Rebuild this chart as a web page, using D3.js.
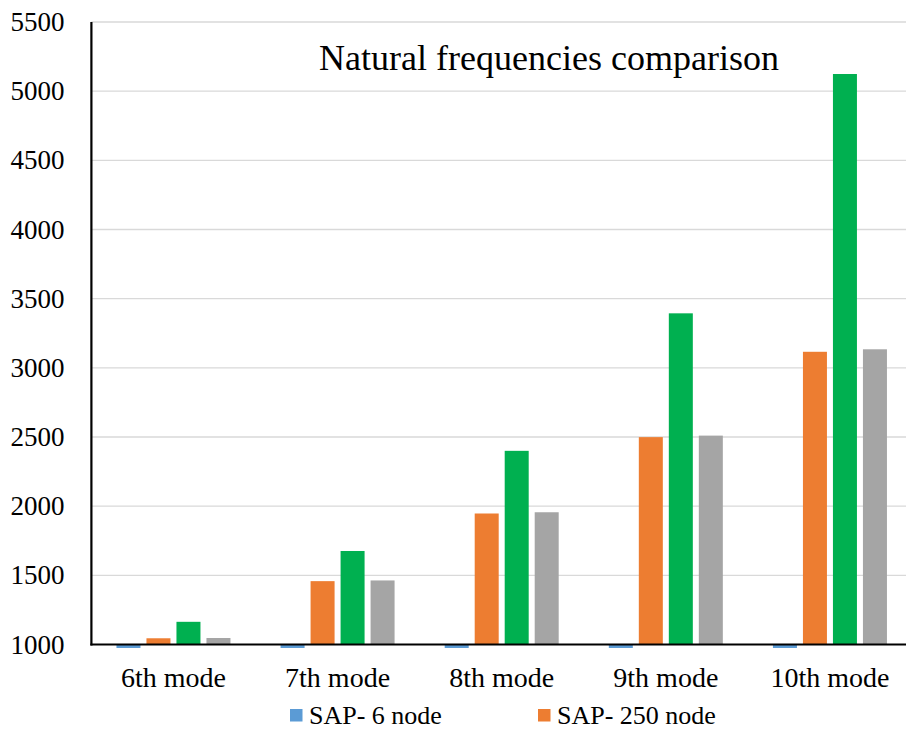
<!DOCTYPE html>
<html>
<head>
<meta charset="utf-8">
<script src="https://cdn.jsdelivr.net/npm/d3@7"></script>
<style>
  html, body { margin: 0; padding: 0; background: #fff; }
  svg { display: block; }
  svg text { font-family: "Liberation Serif", "Times New Roman", serif; fill: #000; }
</style>
</head>
<body>
<svg id="chart" width="906" height="729"></svg>
<script>
// Mode categories and natural frequency values per model
const categories = ["6th mode", "7th mode", "8th mode", "9th mode", "10th mode"];
const seriesNames = ["SAP- 6 node", "SAP- 250 node", "Series 3", "Series 4"];
const sap6 = [310, 420, 560, 690, 820];
const sap250 = [1045, 1458, 1947, 2499, 3116];
const series3 = [1164, 1676, 2400, 3394, 5124];
const series4 = [1047, 1463, 1956, 2510, 3134];
const colors = ["#5B9BD5", "#ED7D31", "#00B050", "#A5A5A5"];
const yTicks = [1000, 1500, 2000, 2500, 3000, 3500, 4000, 4500, 5000, 5500];
const legendItems = ["SAP- 6 node", "SAP- 250 node"];
const chartTitle = "Natural frequencies comparison";

const seriesValues = [sap6, sap250, series3, series4];

const svg = d3.select("#chart");
const plot = { left: 91.4, right: 912, top: 22, bottom: 644.5 };

const y = d3.scaleLinear().domain([1000, 5500]).range([plot.bottom, plot.top]);
const x0 = d3.scaleBand().domain(categories).range([plot.left, plot.right]).paddingInner(0).paddingOuter(0);
const bw = x0.bandwidth();
const x1 = d3.scaleBand().domain(d3.range(seriesNames.length))
  .range([bw / 2 - 57, bw / 2 + 57]).paddingInner(0.2).paddingOuter(0);

// clip so bars under the axis minimum only show a sliver
svg.append("defs").append("clipPath").attr("id", "plotClip")
  .append("rect").attr("x", plot.left).attr("y", plot.top - 2)
  .attr("width", plot.right - plot.left).attr("height", plot.bottom - plot.top + 5.5);

// gridlines
svg.append("g").selectAll("line").data(yTicks.filter(t => t > 1000)).join("line")
  .attr("x1", plot.left).attr("x2", plot.right)
  .attr("y1", d => y(d)).attr("y2", d => y(d))
  .attr("stroke", "#D9D9D9").attr("stroke-width", 1.3);

// bars
const bars = svg.append("g").attr("clip-path", "url(#plotClip)");
seriesValues.forEach((vals, si) => {
  bars.append("g").selectAll("rect").data(vals).join("rect")
    .attr("x", (d, i) => x0(categories[i]) + x1(si))
    .attr("width", x1.bandwidth())
    .attr("y", d => Math.min(y(d), y(1000)))
    .attr("height", d => Math.abs(y(d) - y(1000)))
    .attr("fill", colors[si]);
});

// y axis
const yAxis = d3.axisLeft(y).tickValues(yTicks).tickSize(0).tickPadding(27).tickFormat(d3.format("d"));
const gy = svg.append("g").attr("transform", `translate(${plot.left},0)`).call(yAxis)
  .attr("font-family", null).attr("font-size", null);
gy.select(".domain").attr("stroke", "#000").attr("stroke-width", 2.2)
  .attr("d", `M0,${plot.top}V${plot.bottom + 1}`);
gy.selectAll("text").style("font-size", "27px");

// x axis
const xAxis = d3.axisBottom(x0).tickSize(0).tickPadding(23);
const gx = svg.append("g").attr("transform", `translate(0,${plot.bottom})`).call(xAxis)
  .attr("font-family", null).attr("font-size", null);
gx.select(".domain").attr("stroke", "#000").attr("stroke-width", 2.2)
  .attr("d", `M${plot.left - 1},0H${plot.right}`);
gx.selectAll("text").style("font-size", "28px");

// title
svg.append("text").attr("x", 549).attr("y", 70).attr("text-anchor", "middle")
  .style("font-size", "36px").text(chartTitle);

// legend
const legendX = [290, 538];
const lg = svg.append("g");
legendItems.forEach((name, i) => {
  lg.append("rect").attr("x", legendX[i]).attr("y", 709).attr("width", 12.5).attr("height", 12.5)
    .attr("fill", colors[i]);
  lg.append("text").attr("x", legendX[i] + 19).attr("y", 724).style("font-size", "26px").text(name);
});
</script>
</body>
</html>
